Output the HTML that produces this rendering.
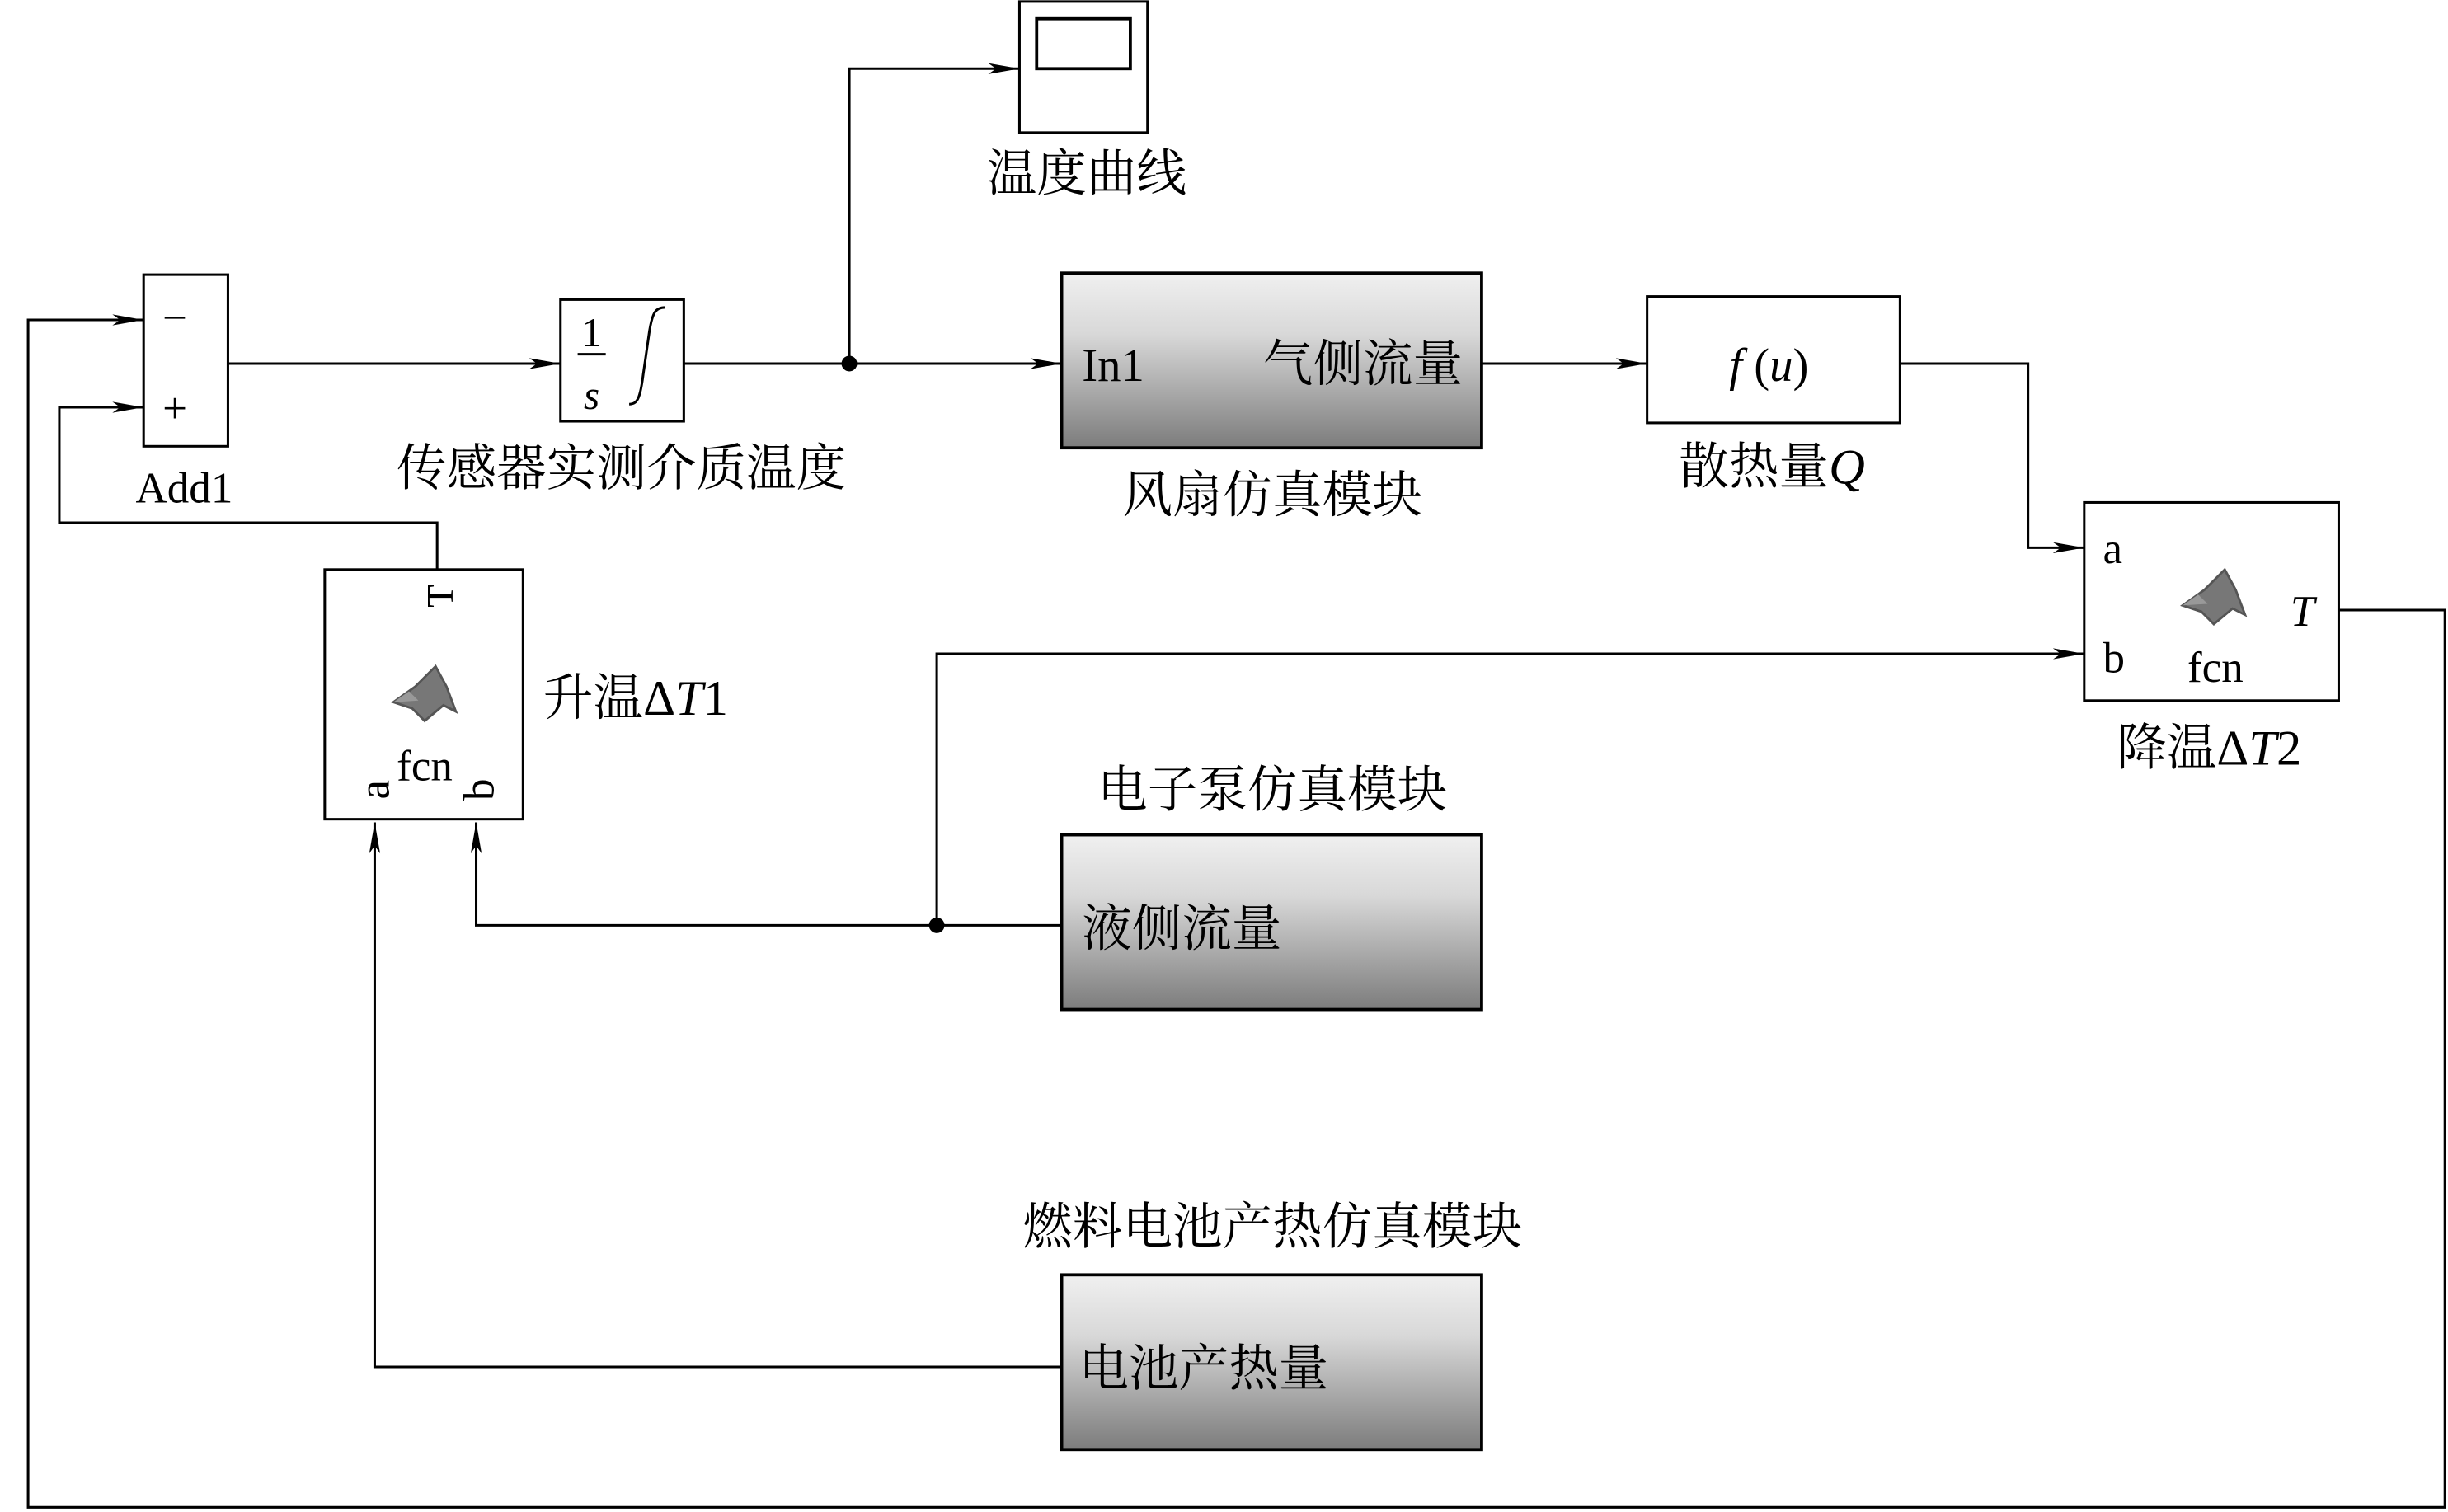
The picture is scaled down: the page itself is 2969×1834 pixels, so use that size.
<!DOCTYPE html>
<html><head><meta charset="utf-8">
<style>
html,body{margin:0;padding:0;background:#fff;}
svg{display:block;}
text{font-family:"Liberation Serif","Noto Serif CJK SC",serif;fill:#000;}
</style></head>
<body>
<svg width="2969" height="1834" viewBox="0 0 1568 969" preserveAspectRatio="none" xmlns="http://www.w3.org/2000/svg">
<defs>
<linearGradient id="g" x1="0" y1="0" x2="0" y2="1">
<stop offset="0" stop-color="#f0f0f0"/>
<stop offset="0.35" stop-color="#d8d8d8"/>
<stop offset="1" stop-color="#7c7c7c"/>
</linearGradient>
<marker id="a" markerWidth="20" markerHeight="8" refX="20" refY="4" orient="auto" markerUnits="userSpaceOnUse">
<path d="M0,0.5 L20,4 L0,7.5 L5,4 Z" fill="#000"/>
</marker>
<g id="ml">
<path d="M-20,5 L-6,-5 L7,-18 L14,-5 L20,11 L12,7 L0,17 L-8,9 Z" fill="#777" stroke="#555" stroke-width="1.5"/>
<path d="M-20,5 L-10,-2 L-4,4 Z" fill="#999"/>
</g>
</defs>
<g fill="none" stroke="#000" stroke-width="1.6">
<path d="M146,233 H359" marker-end="url(#a)"/>
<path d="M438,233 H680" marker-end="url(#a)"/>
<path d="M544,233 V44 H653" marker-end="url(#a)"/>
<path d="M949,233 H1055" marker-end="url(#a)"/>
<path d="M1217,233 H1299 V351 H1335" marker-end="url(#a)"/>
<path d="M1498,391 H1566 V966 H18 V205 H92" marker-end="url(#a)"/>
<path d="M280,365 V335 H38 V261 H92" marker-end="url(#a)"/>
<path d="M600,593 V419 H1335" marker-end="url(#a)"/>
<path d="M680,593 H305 V527" marker-end="url(#a)"/>
<path d="M680,876 H240 V527" marker-end="url(#a)"/>
<rect x="92" y="176" width="54" height="110"/>
<rect x="359" y="192" width="79" height="78"/>
<rect x="653" y="1" width="82" height="84"/>
<rect x="664" y="12" width="60" height="32" stroke-width="2"/>
<rect x="680" y="175" width="269" height="112" fill="url(#g)" stroke-width="2"/>
<rect x="680" y="535" width="269" height="112" fill="url(#g)" stroke-width="2"/>
<rect x="680" y="817" width="269" height="112" fill="url(#g)" stroke-width="2"/>
<rect x="1055" y="190" width="162" height="81"/>
<rect x="1335" y="322" width="163" height="127"/>
<rect x="208" y="365" width="127" height="160"/>
<path d="M370,227 H388"/>
<path d="M403,259 C408,259 410,256 412,240 L416,212 C418,200 420,197 426,197"/>
</g>
<circle cx="544" cy="233" r="5"/>
<circle cx="600" cy="593" r="5"/>
<g font-size="28">
<text x="112" y="213" text-anchor="middle">−</text>
<text x="112" y="271" text-anchor="middle">+</text>
<text x="379" y="222" text-anchor="middle" font-size="26">1</text>
<text x="379" y="262" text-anchor="middle" font-size="26" font-style="italic">s</text>
</g>
<g font-size="32">
<text x="118" y="322" text-anchor="middle" font-size="28">Add1</text>
<text x="398" y="311" text-anchor="middle">传感器实测介质温度</text>
<text x="696" y="122" text-anchor="middle">温度曲线</text>
<text x="693" y="244" font-size="30">In1</text>
<text x="937" y="244" text-anchor="end">气侧流量</text>
<text x="815" y="328" text-anchor="middle">风扇仿真模块</text>
<text x="1133" y="244" text-anchor="middle" font-size="30"><tspan font-style="italic">f</tspan> (<tspan font-style="italic">u</tspan>)</text>
<text x="1135" y="310" text-anchor="middle">散热量<tspan font-style="italic">Q</tspan></text>
<text x="1415" y="490" text-anchor="middle">降温Δ<tspan font-style="italic">T</tspan>2</text>
<text x="348" y="458">升温Δ<tspan font-style="italic">T</tspan>1</text>
<text x="815" y="517" text-anchor="middle">电子泵仿真模块</text>
<text x="693" y="606">液侧流量</text>
<text x="815" y="797" text-anchor="middle">燃料电池产热仿真模块</text>
<text x="691" y="888">电池产热量</text>
</g>
<g font-size="28">
<text x="1347" y="361">a</text>
<text x="1347" y="431">b</text>
<text x="1467" y="401" font-style="italic">T</text>
<text x="1419" y="437" text-anchor="middle">fcn</text>
<text x="272" y="500" text-anchor="middle">fcn</text>
<text transform="translate(290,382) rotate(-90)" text-anchor="middle" font-size="24">T</text>
<text transform="translate(249,506) rotate(-90)" text-anchor="middle">a</text>
<text transform="translate(316,506) rotate(-90)" text-anchor="middle">b</text>
</g>
<use href="#ml" x="1418" y="383"/>
<use href="#ml" x="272" y="445"/>
</svg>
</body></html>
